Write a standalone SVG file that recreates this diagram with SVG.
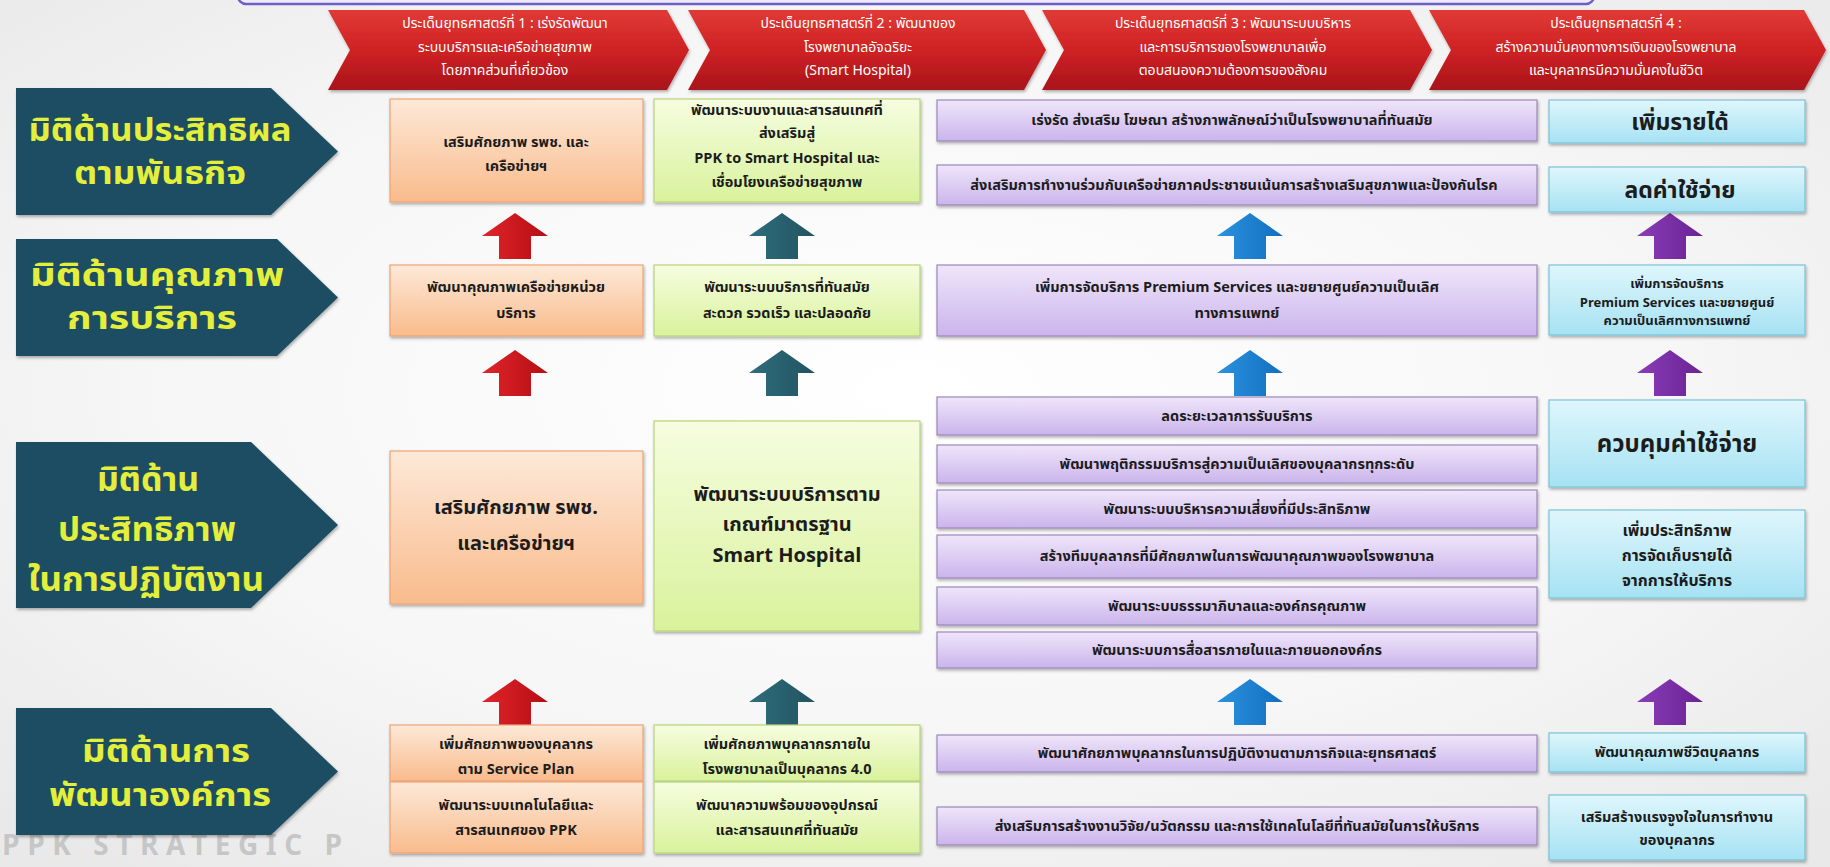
<svg xmlns="http://www.w3.org/2000/svg" width="1830" height="867" viewBox="0 0 1830 867">
<defs>
<radialGradient id="bg" cx="0.5" cy="0.45" r="0.7"><stop offset="0" stop-color="#ffffff"/><stop offset="0.6" stop-color="#f6f6f6"/><stop offset="1" stop-color="#e9e9e9"/></radialGradient>
<linearGradient id="gRed" x1="0" y1="0" x2="0" y2="1"><stop offset="0" stop-color="#e03a36"/><stop offset="0.5" stop-color="#cf2224"/><stop offset="1" stop-color="#a8141a"/></linearGradient>
<linearGradient id="gOr" x1="0" y1="0" x2="0" y2="1"><stop offset="0" stop-color="#fde9d8"/><stop offset="1" stop-color="#f9bb8c"/></linearGradient>
<linearGradient id="gGr" x1="0" y1="0" x2="0" y2="1"><stop offset="0" stop-color="#f6fde0"/><stop offset="1" stop-color="#d9f29c"/></linearGradient>
<linearGradient id="gPu" x1="0" y1="0" x2="0" y2="1"><stop offset="0" stop-color="#efe6fa"/><stop offset="1" stop-color="#cbb4ec"/></linearGradient>
<linearGradient id="gCy" x1="0" y1="0" x2="0" y2="1"><stop offset="0" stop-color="#dff6fc"/><stop offset="1" stop-color="#a6e2f3"/></linearGradient>
<linearGradient id="aRed" x1="0" y1="0" x2="1" y2="0"><stop offset="0" stop-color="#e0242a"/><stop offset="1" stop-color="#b50e14"/></linearGradient>
<linearGradient id="aTeal" x1="0" y1="0" x2="1" y2="0"><stop offset="0" stop-color="#2f6d7e"/><stop offset="1" stop-color="#22535f"/></linearGradient>
<linearGradient id="aBlue" x1="0" y1="0" x2="1" y2="0"><stop offset="0" stop-color="#2a92e0"/><stop offset="1" stop-color="#126fbe"/></linearGradient>
<linearGradient id="aPur" x1="0" y1="0" x2="1" y2="0"><stop offset="0" stop-color="#8a3cb8"/><stop offset="1" stop-color="#6a2393"/></linearGradient>
<filter id="sh" x="-5%" y="-10%" width="110%" height="130%"><feDropShadow dx="1" dy="2" stdDeviation="1.5" flood-color="#000" flood-opacity="0.3"/></filter>
<path id="arr" d="M0,0 L33,23 L16,23 L16,46 L-16,46 L-16,23 L-33,23 Z"/>
</defs>
<style>
text{font-family:"Noto Sans Thai","Noto Sans","Liberation Sans","DejaVu Sans",sans-serif;text-anchor:middle}
.hd{fill:#ffffff;font-size:14px}
.lb{fill:#e4ef3c;font-size:31px;font-weight:bold}
.lb3{fill:#e4ef3c;font-size:34px;font-weight:bold}
.bx{font-size:14.5px;fill:#1c1c1c;font-weight:bold}
.bs{font-size:13px;fill:#1c1c1c;font-weight:bold}
.bc{font-size:16px;fill:#1c1c1c;font-weight:bold}
.bm{font-size:20px;fill:#1c1c1c;font-weight:bold}
.bl{font-size:23px;fill:#1c1c1c;font-weight:bold}
.or{fill:url(#gOr);stroke:#eea374;stroke-width:1.2;filter:url(#sh)}
.gr{fill:url(#gGr);stroke:#b7d47a;stroke-width:1.2;filter:url(#sh)}
.pu{fill:url(#gPu);stroke:#9c88bb;stroke-width:1.2;filter:url(#sh)}
.cy{fill:url(#gCy);stroke:#79c3d8;stroke-width:1.2;filter:url(#sh)}
.pent{fill:#1f4e62;filter:url(#sh)}
.chev{fill:url(#gRed);filter:url(#sh)}
</style>
<rect x="0" y="0" width="1830" height="867" fill="url(#bg)"/>
<text x="2" y="855" style="text-anchor:start;font-size:28px;font-weight:bold;fill:#c6c6c6" textLength="340" lengthAdjust="spacing">PPK STRATEGIC P</text>
<rect x="238" y="-20" width="1356" height="24" rx="8" fill="#eeeaf8" stroke="#6d5fc6" stroke-width="2.5"/>

<g id="header1"><path class="chev" d="M328,10 L667,10 L689,50 L667,90 L328,90 L350,50 Z"/>
<text class="hd" x="505" y="28">ประเด็นยุทธศาสตร์ที่ 1 : เร่งรัดพัฒนา</text>
<text class="hd" x="505" y="52">ระบบบริการและเครือข่ายสุขภาพ</text>
<text class="hd" x="505" y="75">โดยภาคส่วนที่เกี่ยวข้อง</text></g>
<g id="header2"><path class="chev" d="M688,10 L1024,10 L1046,50 L1024,90 L688,90 L710,50 Z"/>
<text class="hd" x="858" y="28">ประเด็นยุทธศาสตร์ที่ 2 : พัฒนาของ</text>
<text class="hd" x="858" y="52">โรงพยาบาลอัจฉริยะ</text>
<text class="hd" x="858" y="75">(Smart Hospital)</text></g>
<g id="header3"><path class="chev" d="M1042,10 L1410,10 L1432,50 L1410,90 L1042,90 L1064,50 Z"/>
<text class="hd" x="1233" y="28">ประเด็นยุทธศาสตร์ที่ 3 : พัฒนาระบบบริหาร</text>
<text class="hd" x="1233" y="52">และการบริการของโรงพยาบาลเพื่อ</text>
<text class="hd" x="1233" y="75">ตอบสนองความต้องการของสังคม</text></g>
<g id="header4"><path class="chev" d="M1429,10 L1804,10 L1826,50 L1804,90 L1429,90 L1451,50 Z"/>
<text class="hd" x="1616" y="28">ประเด็นยุทธศาสตร์ที่ 4 :</text>
<text class="hd" x="1616" y="52">สร้างความมั่นคงทางการเงินของโรงพยาบาล</text>
<text class="hd" x="1616" y="75">และบุคลากรมีความมั่นคงในชีวิต</text></g>

<g id="dim1"><path class="pent" d="M16,88 H271 L338,151.5 L271,215 H16 Z"/>
<text class="lb" x="160" y="141" textLength="263" lengthAdjust="spacingAndGlyphs">มิติด้านประสิทธิผล</text>
<text class="lb" x="160" y="184" textLength="172" lengthAdjust="spacingAndGlyphs">ตามพันธกิจ</text></g>
<g id="dim2"><path class="pent" d="M16,239 H277 L338,297.5 L277,356 H16 Z"/>
<text class="lb" x="157" y="286" textLength="254" lengthAdjust="spacingAndGlyphs">มิติด้านคุณภาพ</text>
<text class="lb" x="152" y="329" textLength="170" lengthAdjust="spacingAndGlyphs">การบริการ</text></g>
<g id="dim3"><path class="pent" d="M16,442 H251 L338,525 L251,608 H16 Z"/>
<text class="lb3" x="148" y="491" textLength="102" lengthAdjust="spacingAndGlyphs">มิติด้าน</text>
<text class="lb3" x="147" y="541" textLength="178" lengthAdjust="spacingAndGlyphs">ประสิทธิภาพ</text>
<text class="lb3" x="146" y="591" textLength="236" lengthAdjust="spacingAndGlyphs">ในการปฏิบัติงาน</text></g>
<g id="dim4"><path class="pent" d="M16,708 H271 L338,771.5 L271,835 H16 Z"/>
<text class="lb" x="166" y="762" textLength="168" lengthAdjust="spacingAndGlyphs">มิติด้านการ</text>
<text class="lb" x="160" y="806" textLength="222" lengthAdjust="spacingAndGlyphs">พัฒนาองค์การ</text></g>

<g id="connectors">
<use href="#arr" x="515" y="213" fill="url(#aRed)"/>
<use href="#arr" x="782" y="213" fill="url(#aTeal)"/>
<use href="#arr" x="1250" y="213" fill="url(#aBlue)"/>
<use href="#arr" x="1670" y="213" fill="url(#aPur)"/>
<use href="#arr" x="515" y="350" fill="url(#aRed)"/>
<use href="#arr" x="782" y="350" fill="url(#aTeal)"/>
<use href="#arr" x="1250" y="350" fill="url(#aBlue)"/>
<use href="#arr" x="1670" y="350" fill="url(#aPur)"/>
<use href="#arr" x="515" y="679" fill="url(#aRed)"/>
<use href="#arr" x="782" y="679" fill="url(#aTeal)"/>
<use href="#arr" x="1250" y="679" fill="url(#aBlue)"/>
<use href="#arr" x="1670" y="679" fill="url(#aPur)"/>
</g>

<g id="r1c1"><rect class="or" x="390" y="99" width="253" height="103"/>
<text class="bx" x="516" y="147">เสริมศักยภาพ รพช. และ</text>
<text class="bx" x="516" y="171">เครือข่ายฯ</text></g>
<g id="r1c2"><rect class="gr" x="654" y="99" width="266" height="103"/>
<text class="bx" x="787" y="115">พัฒนาระบบงานและสารสนเทศที่</text>
<text class="bx" x="787" y="138">ส่งเสริมสู่</text>
<text class="bx" x="787" y="163">PPK to Smart Hospital และ</text>
<text class="bx" x="787" y="187">เชื่อมโยงเครือข่ายสุขภาพ</text></g>
<g id="r1c3a"><rect class="pu" x="937" y="100" width="600" height="41"/>
<text class="bx" x="1232" y="125">เร่งรัด ส่งเสริม โฆษณา สร้างภาพลักษณ์ว่าเป็นโรงพยาบาลที่ทันสมัย</text></g>
<g id="r1c3b"><rect class="pu" x="937" y="165" width="600" height="40"/>
<text class="bx" x="1234" y="190">ส่งเสริมการทำงานร่วมกับเครือข่ายภาคประชาชนเน้นการสร้างเสริมสุขภาพและป้องกันโรค</text></g>
<g id="r1c4a"><rect class="cy" x="1549" y="100" width="256" height="43"/>
<text class="bl" x="1680" y="130">เพิ่มรายได้</text></g>
<g id="r1c4b"><rect class="cy" x="1549" y="167" width="256" height="45"/>
<text class="bl" x="1680" y="198">ลดค่าใช้จ่าย</text></g>

<g id="r2c1"><rect class="or" x="390" y="265" width="253" height="71"/>
<text class="bx" x="516" y="292">พัฒนาคุณภาพเครือข่ายหน่วย</text>
<text class="bx" x="516" y="318">บริการ</text></g>
<g id="r2c2"><rect class="gr" x="654" y="265" width="266" height="71"/>
<text class="bx" x="787" y="292">พัฒนาระบบบริการที่ทันสมัย</text>
<text class="bx" x="787" y="318">สะดวก รวดเร็ว และปลอดภัย</text></g>
<g id="r2c3"><rect class="pu" x="937" y="265" width="600" height="71"/>
<text class="bx" x="1237" y="292">เพิ่มการจัดบริการ Premium Services และขยายศูนย์ความเป็นเลิศ</text>
<text class="bx" x="1237" y="318">ทางการแพทย์</text></g>
<g id="r2c4"><rect class="cy" x="1549" y="265" width="256" height="70"/>
<text class="bs" x="1677" y="288">เพิ่มการจัดบริการ</text>
<text class="bs" x="1677" y="307">Premium Services และขยายศูนย์</text>
<text class="bs" x="1677" y="325">ความเป็นเลิศทางการแพทย์</text></g>

<g id="r3c1"><rect class="or" x="390" y="451" width="253" height="153"/>
<text class="bm" x="516" y="514">เสริมศักยภาพ รพช.</text>
<text class="bm" x="516" y="550">และเครือข่ายฯ</text></g>
<g id="r3c2"><rect class="gr" x="654" y="421" width="266" height="210"/>
<text class="bm" x="787" y="501">พัฒนาระบบบริการตาม</text>
<text class="bm" x="787" y="531">เกณฑ์มาตรฐาน</text>
<text class="bm" x="787" y="562">Smart Hospital</text></g>
<g id="r3c3a"><rect class="pu" x="937" y="397" width="600" height="38"/>
<text class="bx" x="1237" y="421">ลดระยะเวลาการรับบริการ</text></g>
<g id="r3c3b"><rect class="pu" x="937" y="445" width="600" height="38"/>
<text class="bx" x="1237" y="469">พัฒนาพฤติกรรมบริการสู่ความเป็นเลิศของบุคลากรทุกระดับ</text></g>
<g id="r3c3c"><rect class="pu" x="937" y="490" width="600" height="38"/>
<text class="bx" x="1237" y="514">พัฒนาระบบบริหารความเสี่ยงที่มีประสิทธิภาพ</text></g>
<g id="r3c3d"><rect class="pu" x="937" y="535" width="600" height="43"/>
<text class="bx" x="1237" y="561">สร้างทีมบุคลากรที่มีศักยภาพในการพัฒนาคุณภาพของโรงพยาบาล</text></g>
<g id="r3c3e"><rect class="pu" x="937" y="587" width="600" height="38"/>
<text class="bx" x="1237" y="611">พัฒนาระบบธรรมาภิบาลและองค์กรคุณภาพ</text></g>
<g id="r3c3f"><rect class="pu" x="937" y="632" width="600" height="36"/>
<text class="bx" x="1237" y="655">พัฒนาระบบการสื่อสารภายในและภายนอกองค์กร</text></g>
<g id="r3c4a"><rect class="cy" x="1549" y="400" width="256" height="87"/>
<text class="bl" x="1677" y="452" style="font-size:24px">ควบคุมค่าใช้จ่าย</text></g>
<g id="r3c4b"><rect class="cy" x="1549" y="510" width="256" height="88"/>
<text class="bc" x="1677" y="536">เพิ่มประสิทธิภาพ</text>
<text class="bc" x="1677" y="561">การจัดเก็บรายได้</text>
<text class="bc" x="1677" y="586">จากการให้บริการ</text></g>

<g id="r4c1a"><rect class="or" x="390" y="725" width="253" height="56"/>
<text class="bx" x="516" y="749">เพิ่มศักยภาพของบุคลากร</text>
<text class="bx" x="516" y="774">ตาม Service Plan</text></g>
<g id="r4c1b"><rect class="or" x="390" y="782" width="253" height="71"/>
<text class="bx" x="516" y="810">พัฒนาระบบเทคโนโลยีและ</text>
<text class="bx" x="516" y="835">สารสนเทศของ PPK</text></g>
<g id="r4c2a"><rect class="gr" x="654" y="725" width="266" height="56"/>
<text class="bx" x="787" y="749">เพิ่มศักยภาพบุคลากรภายใน</text>
<text class="bx" x="787" y="774">โรงพยาบาลเป็นบุคลากร 4.0</text></g>
<g id="r4c2b"><rect class="gr" x="654" y="782" width="266" height="71"/>
<text class="bx" x="787" y="810">พัฒนาความพร้อมของอุปกรณ์</text>
<text class="bx" x="787" y="835">และสารสนเทศที่ทันสมัย</text></g>
<g id="r4c3a"><rect class="pu" x="937" y="735" width="600" height="37"/>
<text class="bx" x="1237" y="758">พัฒนาศักยภาพบุคลากรในการปฏิบัติงานตามภารกิจและยุทธศาสตร์</text></g>
<g id="r4c3b"><rect class="pu" x="937" y="807" width="600" height="38"/>
<text class="bx" x="1237" y="831">ส่งเสริมการสร้างงานวิจัย/นวัตกรรม และการใช้เทคโนโลยีที่ทันสมัยในการให้บริการ</text></g>
<g id="r4c4a"><rect class="cy" x="1549" y="733" width="256" height="39"/>
<text class="bx" x="1677" y="757">พัฒนาคุณภาพชีวิตบุคลากร</text></g>
<g id="r4c4b"><rect class="cy" x="1549" y="795" width="256" height="65"/>
<text class="bx" x="1677" y="822">เสริมสร้างแรงจูงใจในการทำงาน</text>
<text class="bx" x="1677" y="845">ของบุคลากร</text></g>
</svg>
